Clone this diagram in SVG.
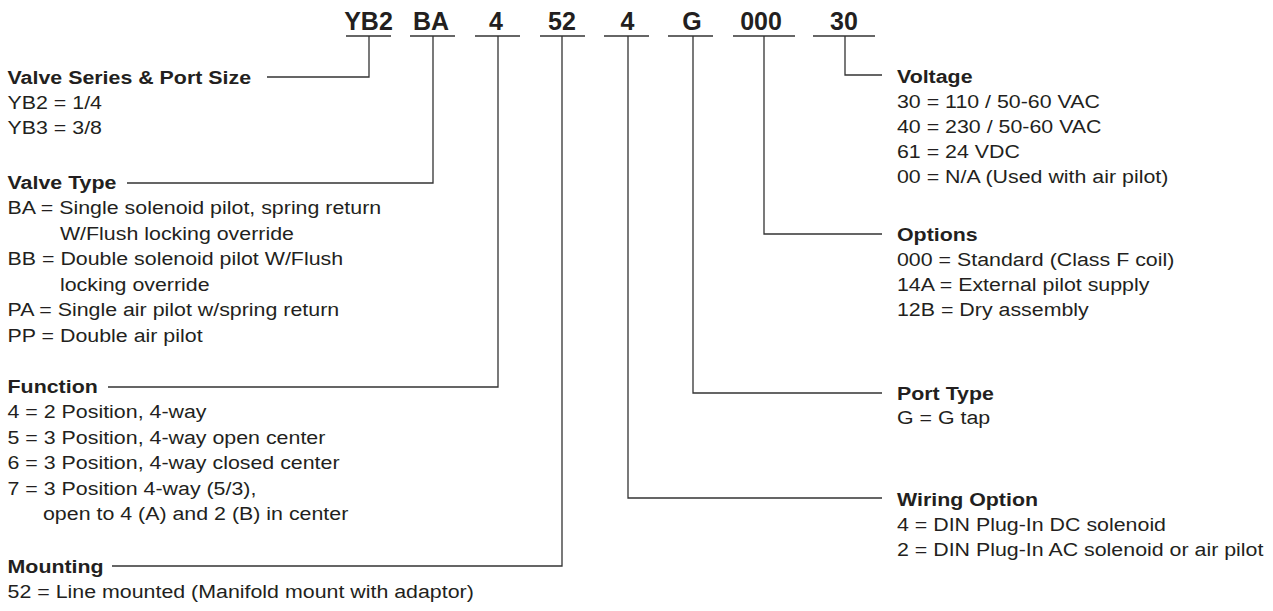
<svg xmlns="http://www.w3.org/2000/svg" width="1273" height="611" viewBox="0 0 1273 611">
<style>
text{font-family:"Liberation Sans",Arial,sans-serif;fill:#231f20}
.code{font-size:25px;font-weight:bold;text-anchor:middle}
.h{font-size:19px;font-weight:bold}
.t{font-size:19px}
.ln{stroke:#333;stroke-width:1.3;fill:none}
</style>
<rect width="1273" height="611" fill="#fff"/>
<g id="codes">
<g id="code-yb2"><text class="code" x="368.5" y="30">YB2</text><line class="ln" x1="346" y1="36" x2="391" y2="36"/></g>
<g id="code-ba"><text class="code" x="431" y="30">BA</text><line class="ln" x1="410" y1="36" x2="455" y2="36"/></g>
<g id="code-4a"><text class="code" x="496" y="30">4</text><line class="ln" x1="475" y1="36" x2="520" y2="36"/></g>
<g id="code-52"><text class="code" x="562" y="30">52</text><line class="ln" x1="540" y1="36" x2="585" y2="36"/></g>
<g id="code-4b"><text class="code" x="627.5" y="30">4</text><line class="ln" x1="604" y1="36" x2="649" y2="36"/></g>
<g id="code-g"><text class="code" x="692" y="30">G</text><line class="ln" x1="668" y1="36" x2="713" y2="36"/></g>
<g id="code-000"><text class="code" x="761" y="30">000</text><line class="ln" x1="733" y1="36" x2="795" y2="36"/></g>
<g id="code-30"><text class="code" x="844" y="30">30</text><line class="ln" x1="813" y1="36" x2="875" y2="36"/></g>
</g>
<g id="connectors">
<polyline class="ln" points="369,36 369,77 267,77"/>
<polyline class="ln" points="433,36 433,183 127,183"/>
<polyline class="ln" points="498,36 498,387 108,387"/>
<polyline class="ln" points="562,36 562,566 112,566"/>
<polyline class="ln" points="628,36 628,498 882,498"/>
<polyline class="ln" points="693,36 693,393 882,393"/>
<polyline class="ln" points="764,36 764,234 882,234"/>
<polyline class="ln" points="845,36 845,75 882,75"/>
</g>
<g id="valve-series" transform="scale(1.125 1)">
<text class="h" x="6.7" y="84">Valve Series &amp; Port Size</text>
<text class="t" x="6.7" y="109">YB2 = 1/4</text>
<text class="t" x="6.7" y="134">YB3 = 3/8</text>
</g>
<g id="valve-type" transform="scale(1.125 1)">
<text class="h" x="6.7" y="189">Valve Type</text>
<text class="t" x="6.7" y="214.5">BA = Single solenoid pilot, spring return</text>
<text class="t" x="53.3" y="240">W/Flush locking override</text>
<text class="t" x="6.7" y="265.5">BB = Double solenoid pilot W/Flush</text>
<text class="t" x="53.3" y="291">locking override</text>
<text class="t" x="6.7" y="316.5">PA = Single air pilot w/spring return</text>
<text class="t" x="6.7" y="342">PP = Double air pilot</text>
</g>
<g id="function" transform="scale(1.125 1)">
<text class="h" x="6.7" y="393">Function</text>
<text class="t" x="6.7" y="418.5">4 = 2 Position, 4-way</text>
<text class="t" x="6.7" y="444">5 = 3 Position, 4-way open center</text>
<text class="t" x="6.7" y="469.5">6 = 3 Position, 4-way closed center</text>
<text class="t" x="6.7" y="495">7 = 3 Position 4-way (5/3),</text>
<text class="t" x="38.2" y="520.5">open to 4 (A) and 2 (B) in center</text>
</g>
<g id="mounting" transform="scale(1.125 1)">
<text class="h" x="6.7" y="573">Mounting</text>
<text class="t" x="6.7" y="598">52 = Line mounted (Manifold mount with adaptor)</text>
</g>
<g id="voltage" transform="scale(1.125 1)">
<text class="h" x="797.3" y="83">Voltage</text>
<text class="t" x="797.3" y="108">30 = 110 / 50-60 VAC</text>
<text class="t" x="797.3" y="133">40 = 230 / 50-60 VAC</text>
<text class="t" x="797.3" y="158">61 = 24 VDC</text>
<text class="t" x="797.3" y="183">00 = N/A (Used with air pilot)</text>
</g>
<g id="options" transform="scale(1.125 1)">
<text class="h" x="797.3" y="241">Options</text>
<text class="t" x="797.3" y="266">000 = Standard (Class F coil)</text>
<text class="t" x="797.3" y="291">14A = External pilot supply</text>
<text class="t" x="797.3" y="316">12B = Dry assembly</text>
</g>
<g id="port-type" transform="scale(1.125 1)">
<text class="h" x="797.3" y="400">Port Type</text>
<text class="t" x="797.3" y="424">G = G tap</text>
</g>
<g id="wiring-option" transform="scale(1.125 1)">
<text class="h" x="797.3" y="506">Wiring Option</text>
<text class="t" x="797.3" y="531">4 = DIN Plug-In DC solenoid</text>
<text class="t" x="797.3" y="556">2 = DIN Plug-In AC solenoid or air pilot</text>
</g>
</svg>
